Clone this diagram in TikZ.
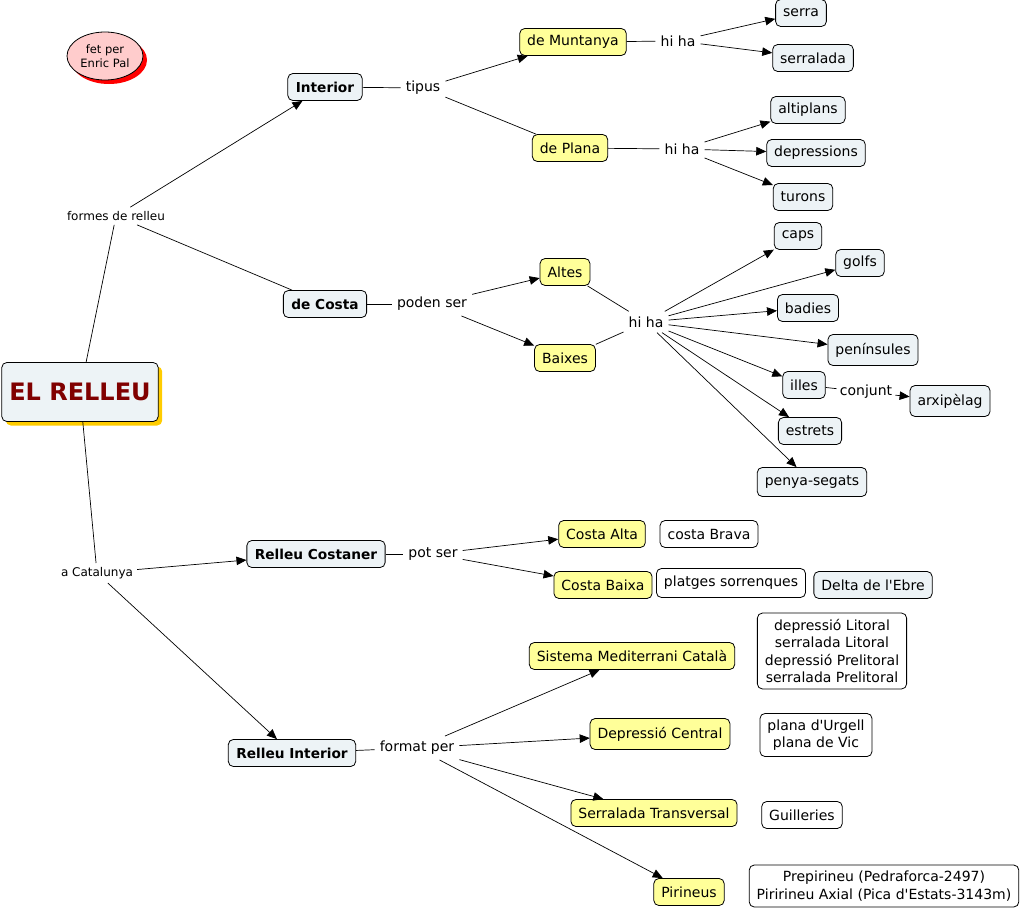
\documentclass[tikz,border=0pt]{standalone}
\usepackage{fontspec}
\setmainfont{DejaVu Sans}[Ligatures=TeXOff]
\usetikzlibrary{arrows.meta,shapes.geometric,shadows}
\definecolor{cfill}{RGB}{237,243,246}
\definecolor{yfill}{RGB}{255,255,153}
\definecolor{pinkfill}{RGB}{255,204,204}
\definecolor{titlered}{RGB}{128,0,0}
\definecolor{shadowyellow}{RGB}{255,204,0}

\begin{document}
\begin{tikzpicture}[x=1pt,y=-1pt,
  >={Triangle[length=10pt,width=8.5pt]},
  link/.style={line width=0.7pt},
  box/.style={draw,line width=0.8pt,rounded corners=5pt,minimum height=27pt,
    inner xsep=7.5pt,font=\fontsize{14}{17.5}\selectfont},
  concept/.style={box,fill=cfill},
  kconcept/.style={concept,inner xsep=8pt,font=\fontsize{13.7}{16}\selectfont\bfseries},
  yconcept/.style={box,fill=yfill},
  wconcept/.style={box,fill=white,align=center,inner ysep=6pt},
  phrase/.style={inner sep=5pt,font=\fontsize{14}{16}\selectfont},
  sphrase/.style={inner sep=4pt,font=\fontsize{12}{14}\selectfont}]
\useasboundingbox (0,0) rectangle (1021,911);

% Author and main concept
\node[ellipse,draw,line width=0.8pt,fill=pinkfill,minimum width=76pt,minimum height=48pt,
  inner sep=0pt,align=center,font=\fontsize{11.5}{14}\selectfont,
  drop shadow={fill=red,opacity=1,shadow xshift=4pt,shadow yshift=-4pt}]
  (fetper) at (105,56) {fet per\\Enric Pal};
\node[concept,minimum height=59pt,minimum width=156pt,text=titlered,
  font=\fontsize{24}{27}\selectfont\bfseries,
  drop shadow={fill=shadowyellow,opacity=1,shadow xshift=4pt,shadow yshift=-4pt}]
  (elrelleu) at (80,392) {EL RELLEU};

% Upper half: formes de relleu
\node[sphrase] (formes) at (116,216) {formes de relleu};
\node[kconcept] (interior) at (325,87) {Interior};
\node[kconcept] (costa) at (325,304) {de Costa};
\node[phrase] (tipus) at (423,88) {tipus};
\node[yconcept] (muntanya) at (573,42) {de Muntanya};
\node[yconcept] (plana) at (570,148) {de Plana};
\node[phrase] (hiham) at (678,41) {hi ha};
\node[phrase] (hihap) at (682,149) {hi ha};
\node[concept] (serra) at (801,13) {serra};
\node[concept] (serralada) at (813,58) {serralada};
\node[concept] (altiplans) at (808,110) {altiplans};
\node[concept] (depressions) at (816,153) {depressions};
\node[concept] (turons) at (803,197) {turons};
\node[phrase] (poden) at (432,304) {poden ser};
\node[yconcept] (altes) at (565,272) {Altes};
\node[yconcept] (baixes) at (565,358) {Baixes};
\node[phrase] (hihac) at (646,322) {hi ha};
\node[concept] (caps) at (798,236) {caps};
\node[concept] (golfs) at (860,263) {golfs};
\node[concept] (badies) at (808,308) {badies};
\node[concept,minimum height=31pt] (peninsules) at (873,350) {penínsules};
\node[concept] (illes) at (804,385) {illes};
\node[phrase,inner sep=3pt] (conjunt) at (866,392) {conjunt};
\node[concept,minimum height=31pt] (arxipelag) at (950,401) {arxipèlag};
\node[concept] (estrets) at (810,431) {estrets};
\node[concept,minimum height=29pt] (penya) at (812,482) {penya-segats};

% Lower half: a Catalunya
\node[sphrase] (catalunya) at (97,573) {a Catalunya};
\node[kconcept] (costaner) at (316,554) {Relleu Costaner};
\node[kconcept] (rinterior) at (292,753) {Relleu Interior};
\node[phrase] (potser) at (433,554) {pot ser};
\node[yconcept] (costaalta) at (602,534) {Costa Alta};
\node[wconcept,inner ysep=3pt] (brava) at (709,534) {costa Brava};
\node[yconcept] (costabaixa) at (603,585) {Costa Baixa};
\node[wconcept,inner ysep=3pt,minimum height=29pt] (platges) at (731,583) {platges sorrenques};
\node[concept] (delta) at (873,585) {Delta de l'Ebre};
\node[phrase] (format) at (417,748) {format per};
\node[yconcept] (sistema) at (632,656) {Sistema Mediterrani Català};
\node[wconcept] (litoral) at (832,651) {depressió Litoral\\serralada Litoral\\depressió Prelitoral\\serralada Prelitoral};
\node[yconcept,minimum height=31pt] (central) at (660,734) {Depressió Central};
\node[wconcept] (urgell) at (816,735) {plana d'Urgell\\plana de Vic};
\node[yconcept] (transversal) at (654,813) {Serralada Transversal};
\node[wconcept,inner ysep=3pt] (guilleries) at (802,815) {Guilleries};
\node[yconcept] (pirineus) at (689,892) {Pirineus};
\node[wconcept] (prepirineu) at (884,886) {Prepirineu (Pedraforca-2497)\\Piririneu Axial (Pica d'Estats-3143m)};

% Connectors of the upper half
\draw[link] (elrelleu) -- (formes);
\draw[link,->] (formes) -- (interior);
\draw[link] (formes) -- (costa);
\draw[link] (interior) -- (tipus);
\draw[link,->] (tipus) -- (muntanya);
\draw[link] (tipus) -- (plana);
\draw[link] (muntanya) -- (hiham);
\draw[link,->] (hiham) -- (serra);
\draw[link,->] (hiham) -- (serralada);
\draw[link] (plana) -- (hihap);
\draw[link,->] (hihap) -- (altiplans);
\draw[link,->] (hihap) -- (depressions);
\draw[link,->] (hihap) -- (turons);
\draw[link] (costa) -- (poden);
\draw[link,->] (poden) -- (altes);
\draw[link,->] (poden) -- (baixes);
\draw[link] (altes) -- (hihac);
\draw[link] (baixes) -- (hihac);
\draw[link,->] (hihac) -- (caps);
\draw[link,->] (hihac) -- (golfs);
\draw[link,->] (hihac) -- (badies);
\draw[link,->] (hihac) -- (peninsules);
\draw[link,->] (hihac) -- (illes);
\draw[link,->] (hihac) -- (estrets);
\draw[link,->] (hihac) -- (penya);
\draw[link] (illes) -- (conjunt);
\draw[link,->] (conjunt) -- (arxipelag);

% Connectors of the lower half
\draw[link] (elrelleu) -- (catalunya);
\draw[link,->] (catalunya) -- (costaner);
\draw[link,->] (catalunya) -- (rinterior);
\draw[link] (costaner) -- (potser);
\draw[link,->] (potser) -- (costaalta);
\draw[link,->] (potser) -- (costabaixa);
\draw[link] (rinterior) -- (format);
\draw[link,->] (format) -- (sistema);
\draw[link,->] (format) -- (central);
\draw[link,->] (format) -- (transversal);
\draw[link,->] (format) -- (pirineus);
\end{tikzpicture}
\end{document}
